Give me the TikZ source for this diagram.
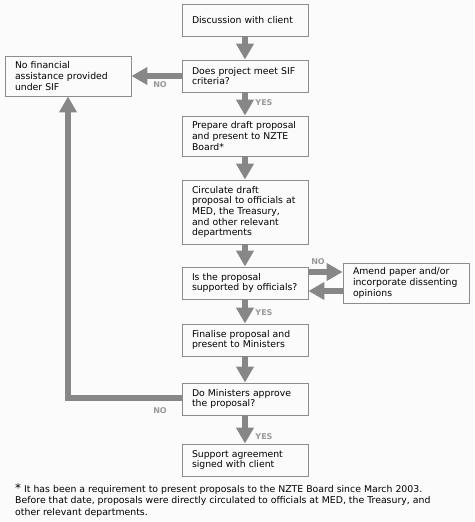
\documentclass[tikz,border=0pt]{standalone}
\usepackage{fontspec}
\setmainfont{DejaVu Sans}
\usetikzlibrary{arrows.meta}
\definecolor{arrowgray}{HTML}{878787}
\definecolor{boxgray}{HTML}{8C8C8C}
\definecolor{labelgray}{HTML}{9A9A9A}
\definecolor{bggray}{HTML}{FBFBFB}
\begin{document}
\begin{tikzpicture}[x=1pt,y=-1pt,
  flowbox/.style={draw=boxgray,line width=0.9pt,text width=106pt,inner xsep=10pt,inner ysep=0pt,align=left,font=\fontsize{9.3}{10.7}\selectfont},
  flowarrow/.style={draw=arrowgray,line width=6pt,-{Triangle[width=17pt,length=16pt]}},
  lbl/.style={text=labelgray,font=\fontsize{8}{8}\selectfont\bfseries,inner sep=0pt}]
\fill[bggray] (0,0) rectangle (474,522);
\useasboundingbox (0,0) rectangle (474,522);

\node[flowbox,minimum height=32pt] (disc) at (245,20) {Discussion with client};
\node[flowbox,minimum height=32pt] (sif) at (245,76) {Does project meet SIF\\criteria?};
\node[flowbox,minimum height=40pt] (nofin) at (68,76) {No financial\\assistance provided\\under SIF};
\node[flowbox,minimum height=40pt] (prep) at (245,136) {Prepare draft proposal\\and present to NZTE\\Board*};
\node[flowbox,minimum height=64pt] (circ) at (245,212) {Circulate draft\\proposal to officials at\\MED, the Treasury,\\and other relevant\\departments};
\node[flowbox,minimum height=32pt] (isprop) at (245,283) {Is the proposal\\supported by officials?};
\node[flowbox,minimum height=40pt] (amend) at (406,283) {Amend paper and/or\\incorporate dissenting\\opinions};
\node[flowbox,minimum height=32pt] (final) at (245,340) {Finalise proposal and\\present to Ministers};
\node[flowbox,minimum height=32pt] (minist) at (245,399) {Do Ministers approve\\the proposal?};
\node[flowbox,minimum height=32pt] (support) at (245,460) {Support agreement\\signed with client};

\draw[flowarrow] (disc.south) -- (sif.north);
\draw[flowarrow] (sif.west) -- (nofin.east);
\draw[flowarrow] (sif.south) -- (prep.north);
\draw[flowarrow] (prep.south) -- (circ.north);
\draw[flowarrow] (circ.south) -- (isprop.north);
\draw[flowarrow] ([yshift=11pt]isprop.east) -- ([yshift=11pt]isprop.east -| amend.west);
\draw[flowarrow] ([yshift=-8pt]amend.west) -- ([yshift=-8pt]amend.west -| isprop.east);
\draw[flowarrow] (isprop.south) -- (final.north);
\draw[flowarrow] (final.south) -- (minist.north);
\draw[flowarrow] (minist.south) -- (support.north);
\draw[flowarrow] ([yshift=1pt]minist.west) -| (nofin.south);

\node[lbl] (no1) at (160,85) {NO};
\node[lbl] (yes1) at (264,103) {YES};
\node[lbl] (no2) at (318,262) {NO};
\node[lbl] (yes2) at (264,313) {YES};
\node[lbl] (no3) at (160,411) {NO};
\node[lbl] (yes3) at (264,437) {YES};

\node[anchor=north west,inner sep=0pt,align=left,font=\fontsize{9.35}{11.5}\selectfont] (foot) at (15,483)
  {{\large*} It has been a requirement to present proposals to the NZTE Board since March 2003.\\
   Before that date, proposals were directly circulated to officials at MED, the Treasury, and\\
   other relevant departments.};
\end{tikzpicture}
\end{document}
